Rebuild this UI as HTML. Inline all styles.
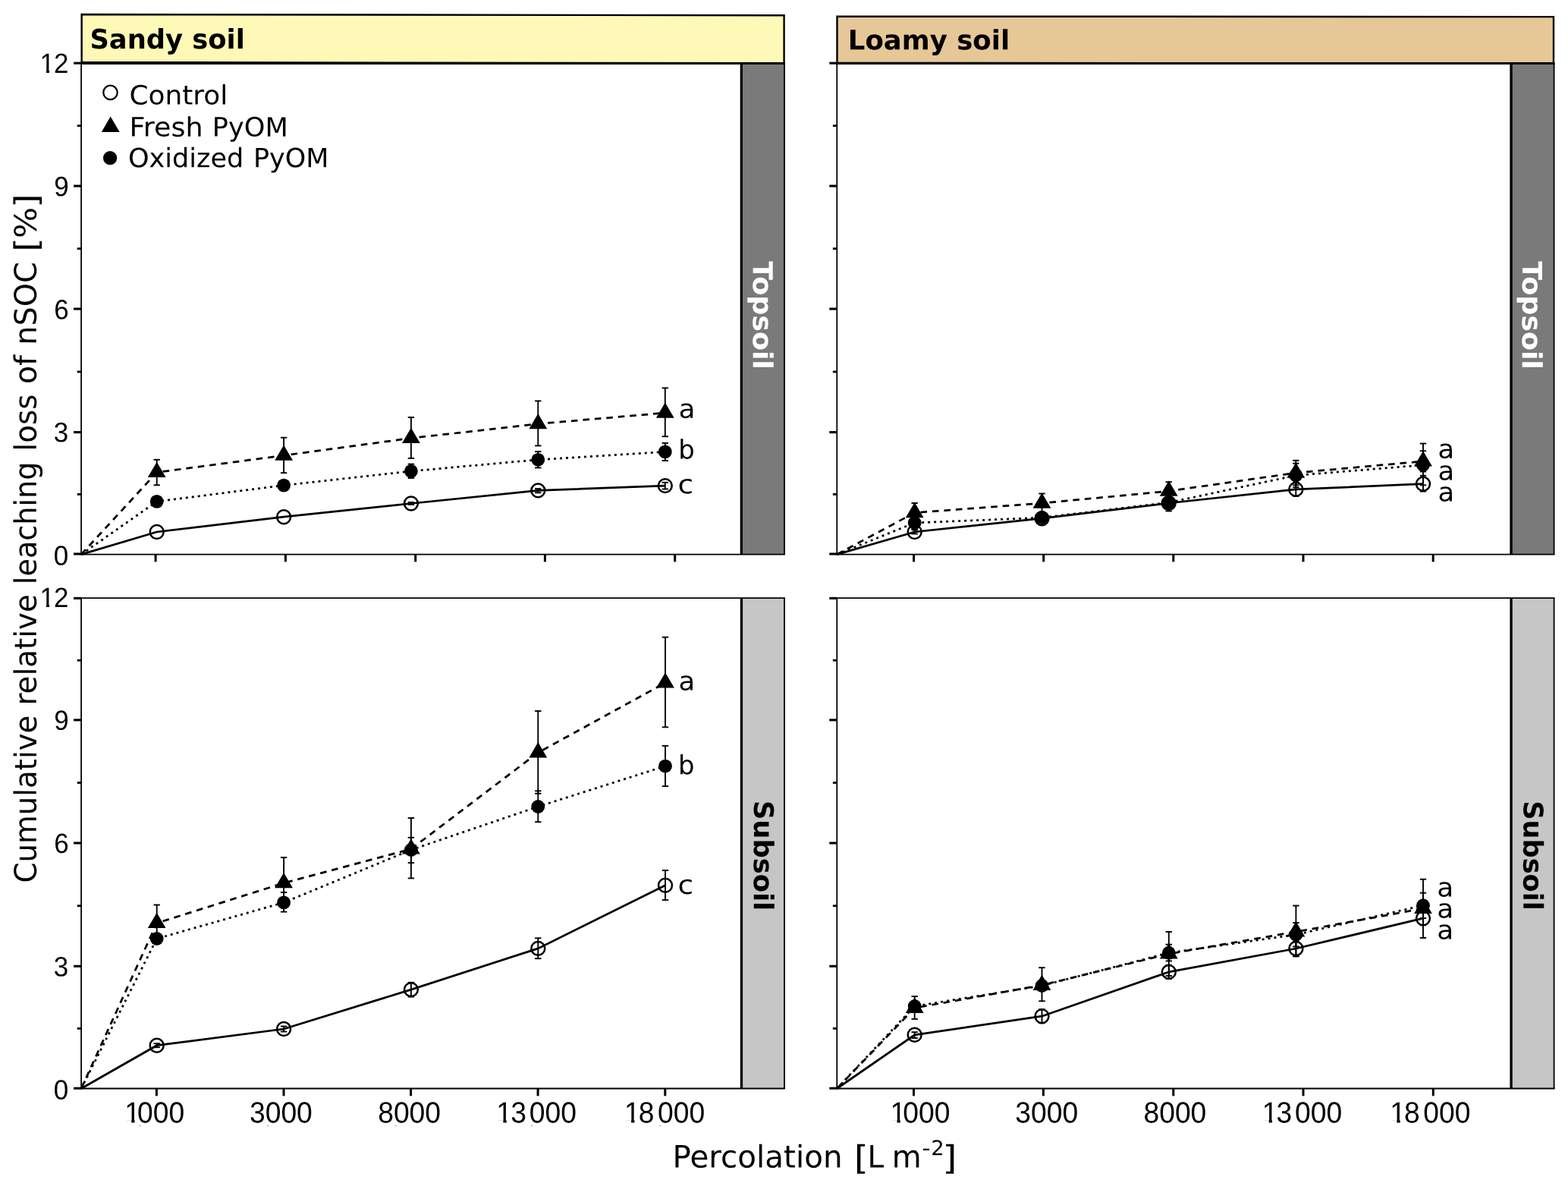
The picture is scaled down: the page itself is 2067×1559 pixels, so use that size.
<!DOCTYPE html>
<html lang="en"><head><meta charset="utf-8"><title>Cumulative relative leaching loss of nSOC</title>
<style>html,body{margin:0;padding:0;background:#fff;}svg{display:block;}text{white-space:pre;}</style></head><body>
<svg width="2067" height="1559" viewBox="0 0 2067 1559">
<rect x="0" y="0" width="2067" height="1559" fill="#ffffff"/>
<defs>
<clipPath id="one39" clipPathUnits="userSpaceOnUse"><polygon points="-3,-39 14.04,-39 14.04,1 9.48,1 9.48,-3.2 -3,-3.2"/></clipPath>
<clipPath id="one36" clipPathUnits="userSpaceOnUse"><polygon points="-3,-36.6 13.18,-36.6 13.18,1 8.89,1 8.89,-3 -3,-3"/></clipPath>
</defs>
<polygon points="107.65,19.05 1033.6,20.2 1033.6,83.3 107.65,82.1" fill="#FFF9B7" stroke="#000" stroke-width="2.4" stroke-linejoin="miter"/>
<text transform="translate(118.42 63.9) rotate(0.03) scale(0.9914 1.0000)" font-family='"DejaVu Sans", "Liberation Sans", sans-serif' font-weight="bold" font-size="35.6" fill="#000">Sandy soil</text>
<polygon points="1103.5,21.6 2048,22.1 2048,83.4 1103.5,82.9" fill="#E6C798" stroke="#000" stroke-width="2.4" stroke-linejoin="miter"/>
<text transform="translate(1117.86 65.2) rotate(0.03) scale(0.9970 1.0000)" font-family='"DejaVu Sans", "Liberation Sans", sans-serif' font-weight="bold" font-size="35.6" fill="#000">Loamy soil</text>
<g id="panel-TL">
<rect x="976.3" y="83.4" width="57.7" height="647.2" fill="#7A7A7A"/>
<line x1="977.35" y1="83.4" x2="977.35" y2="730.6" stroke="#000" stroke-width="3.3"/>
<line x1="1034" y1="83.4" x2="1034" y2="730.6" stroke="#000" stroke-width="1.8"/>
<text transform="translate(992.8 344.37) rotate(90.03) scale(1.0207 1.0000)" font-family='"DejaVu Sans", "Liberation Sans", sans-serif' font-weight="bold" font-size="35.6" fill="#fff">Topsoil</text>
<line x1="106.2" y1="83.4" x2="1034.9" y2="83.4" stroke="#000" stroke-width="3.0"/>
<line x1="106.2" y1="730.6" x2="1034.9" y2="730.6" stroke="#000" stroke-width="1.9"/>
<line x1="107.1" y1="83.4" x2="107.1" y2="730.6" stroke="#000" stroke-width="1.8"/>
<line x1="97.1" y1="730" x2="107.1" y2="730" stroke="#000" stroke-width="3.1"/>
<line x1="101.7" y1="651.4" x2="107.1" y2="651.4" stroke="#000" stroke-width="2.8"/>
<line x1="97.1" y1="569.6" x2="107.1" y2="569.6" stroke="#000" stroke-width="3.1"/>
<line x1="101.7" y1="489.93" x2="107.1" y2="489.93" stroke="#000" stroke-width="2.8"/>
<line x1="97.1" y1="407.05" x2="107.1" y2="407.05" stroke="#000" stroke-width="3.1"/>
<line x1="101.7" y1="327.68" x2="107.1" y2="327.68" stroke="#000" stroke-width="2.8"/>
<line x1="97.1" y1="245.1" x2="107.1" y2="245.1" stroke="#000" stroke-width="3.1"/>
<line x1="101.7" y1="165.75" x2="107.1" y2="165.75" stroke="#000" stroke-width="2.8"/>
<line x1="97.1" y1="83.2" x2="107.1" y2="83.2" stroke="#000" stroke-width="3.1"/>
<line x1="205.1" y1="730.6" x2="205.1" y2="740.4" stroke="#000" stroke-width="3"/>
<line x1="376.4" y1="730.6" x2="376.4" y2="740.4" stroke="#000" stroke-width="3"/>
<line x1="547.7" y1="730.6" x2="547.7" y2="740.4" stroke="#000" stroke-width="3"/>
<line x1="718.4" y1="730.6" x2="718.4" y2="740.4" stroke="#000" stroke-width="3"/>
<line x1="889.7" y1="730.6" x2="889.7" y2="740.4" stroke="#000" stroke-width="3"/>
<polyline points="107.1,730.6 206.7,701 374.1,681.2 541.9,663.5 709.3,646.4 876.8,640.1" fill="none" stroke="#000" stroke-width="2.75"/>
<polyline points="107.1,730.6 206.7,622.5 374.1,600.2 541.9,577.4 709.3,558.6 876.8,544.1" fill="none" stroke="#000" stroke-width="2.75" stroke-dasharray="8.6 6.9"/>
<polyline points="107.1,730.6 206.7,660.9 374.1,639.6 541.9,620.9 709.3,605.8 876.8,595.4" fill="none" stroke="#000" stroke-width="2.75" stroke-dasharray="3 5"/>
<g stroke="#000" stroke-width="1.9"><line x1="541.9" y1="662" x2="541.9" y2="665"/><line x1="537.7" y1="662" x2="546.1" y2="662"/><line x1="537.7" y1="665" x2="546.1" y2="665"/></g>
<g stroke="#000" stroke-width="1.9"><line x1="709.3" y1="644.1" x2="709.3" y2="649.3"/><line x1="705.1" y1="644.1" x2="713.5" y2="644.1"/><line x1="705.1" y1="649.3" x2="713.5" y2="649.3"/></g>
<g stroke="#000" stroke-width="1.9"><line x1="876.8" y1="635.8" x2="876.8" y2="644.5"/><line x1="872.6" y1="635.8" x2="881" y2="635.8"/><line x1="872.6" y1="644.5" x2="881" y2="644.5"/></g>
<g stroke="#000" stroke-width="1.9"><line x1="206.7" y1="605.8" x2="206.7" y2="639.3"/><line x1="202.5" y1="605.8" x2="210.9" y2="605.8"/><line x1="202.5" y1="639.3" x2="210.9" y2="639.3"/></g>
<g stroke="#000" stroke-width="1.9"><line x1="374.1" y1="576.7" x2="374.1" y2="623.2"/><line x1="369.9" y1="576.7" x2="378.3" y2="576.7"/><line x1="369.9" y1="623.2" x2="378.3" y2="623.2"/></g>
<g stroke="#000" stroke-width="1.9"><line x1="541.9" y1="550" x2="541.9" y2="603.9"/><line x1="537.7" y1="550" x2="546.1" y2="550"/><line x1="537.7" y1="603.9" x2="546.1" y2="603.9"/></g>
<g stroke="#000" stroke-width="1.9"><line x1="709.3" y1="528.4" x2="709.3" y2="587.4"/><line x1="705.1" y1="528.4" x2="713.5" y2="528.4"/><line x1="705.1" y1="587.4" x2="713.5" y2="587.4"/></g>
<g stroke="#000" stroke-width="1.9"><line x1="876.8" y1="511.3" x2="876.8" y2="575.2"/><line x1="872.6" y1="511.3" x2="881" y2="511.3"/><line x1="872.6" y1="575.2" x2="881" y2="575.2"/></g>
<g stroke="#000" stroke-width="1.9"><line x1="541.9" y1="611.6" x2="541.9" y2="630"/><line x1="537.7" y1="611.6" x2="546.1" y2="611.6"/><line x1="537.7" y1="630" x2="546.1" y2="630"/></g>
<g stroke="#000" stroke-width="1.9"><line x1="709.3" y1="595.1" x2="709.3" y2="616.4"/><line x1="705.1" y1="595.1" x2="713.5" y2="595.1"/><line x1="705.1" y1="616.4" x2="713.5" y2="616.4"/></g>
<g stroke="#000" stroke-width="1.9"><line x1="876.8" y1="583.9" x2="876.8" y2="607.1"/><line x1="872.6" y1="583.9" x2="881" y2="583.9"/><line x1="872.6" y1="607.1" x2="881" y2="607.1"/></g>
<circle cx="206.7" cy="701" r="8.95" fill="none" stroke="#000" stroke-width="2.5"/>
<circle cx="374.1" cy="681.2" r="8.95" fill="none" stroke="#000" stroke-width="2.5"/>
<circle cx="541.9" cy="663.5" r="8.95" fill="none" stroke="#000" stroke-width="2.5"/>
<circle cx="709.3" cy="646.4" r="8.95" fill="none" stroke="#000" stroke-width="2.5"/>
<circle cx="876.8" cy="640.1" r="8.95" fill="none" stroke="#000" stroke-width="2.5"/>
<circle cx="206.7" cy="660.9" r="8.9" fill="#000"/>
<circle cx="374.1" cy="639.6" r="8.9" fill="#000"/>
<circle cx="541.9" cy="620.9" r="8.9" fill="#000"/>
<circle cx="709.3" cy="605.8" r="8.9" fill="#000"/>
<circle cx="876.8" cy="595.4" r="8.9" fill="#000"/>
<polygon points="206.7,608.8 218.6,629.1 194.8,629.1" fill="#000"/>
<polygon points="374.1,586.5 386,606.8 362.2,606.8" fill="#000"/>
<polygon points="541.9,563.7 553.8,584 530,584" fill="#000"/>
<polygon points="709.3,544.9 721.2,565.2 697.4,565.2" fill="#000"/>
<polygon points="876.8,530.4 888.7,550.7 864.9,550.7" fill="#000"/>
<text transform="translate(894.82 550.7) rotate(0.03) scale(1.0268 1.0000)" font-family='"DejaVu Sans", "Liberation Sans", sans-serif' font-size="34.5" fill="#000">a</text>
<text transform="translate(894.33 604.5) rotate(0.03) scale(0.9837 1.0000)" font-family='"DejaVu Sans", "Liberation Sans", sans-serif' font-size="34.5" fill="#000">b</text>
<text transform="translate(893.56 650.3) rotate(0.03) scale(1.0867 1.0000)" font-family='"DejaVu Sans", "Liberation Sans", sans-serif' font-size="34.5" fill="#000">c</text>
</g>
<g id="panel-TR">
<rect x="1990.5" y="83.4" width="58.1" height="647.2" fill="#7A7A7A"/>
<line x1="1992.1" y1="83.4" x2="1992.1" y2="730.6" stroke="#000" stroke-width="3.3"/>
<line x1="2048.6" y1="83.4" x2="2048.6" y2="730.6" stroke="#000" stroke-width="1.8"/>
<text transform="translate(2006.9 344.37) rotate(90.03) scale(1.0207 1.0000)" font-family='"DejaVu Sans", "Liberation Sans", sans-serif' font-weight="bold" font-size="35.6" fill="#fff">Topsoil</text>
<line x1="1102.4" y1="83.4" x2="2049.5" y2="83.4" stroke="#000" stroke-width="3.0"/>
<line x1="1102.4" y1="730.6" x2="2049.5" y2="730.6" stroke="#000" stroke-width="1.9"/>
<line x1="1103.3" y1="83.4" x2="1103.3" y2="730.6" stroke="#000" stroke-width="1.8"/>
<line x1="1093.3" y1="730" x2="1103.3" y2="730" stroke="#000" stroke-width="3.1"/>
<line x1="1097.9" y1="651.4" x2="1103.3" y2="651.4" stroke="#000" stroke-width="2.8"/>
<line x1="1093.3" y1="569.6" x2="1103.3" y2="569.6" stroke="#000" stroke-width="3.1"/>
<line x1="1097.9" y1="489.93" x2="1103.3" y2="489.93" stroke="#000" stroke-width="2.8"/>
<line x1="1093.3" y1="407.05" x2="1103.3" y2="407.05" stroke="#000" stroke-width="3.1"/>
<line x1="1097.9" y1="327.68" x2="1103.3" y2="327.68" stroke="#000" stroke-width="2.8"/>
<line x1="1093.3" y1="245.1" x2="1103.3" y2="245.1" stroke="#000" stroke-width="3.1"/>
<line x1="1097.9" y1="165.75" x2="1103.3" y2="165.75" stroke="#000" stroke-width="2.8"/>
<line x1="1093.3" y1="83.2" x2="1103.3" y2="83.2" stroke="#000" stroke-width="3.1"/>
<line x1="1204.6" y1="730.6" x2="1204.6" y2="740.4" stroke="#000" stroke-width="3"/>
<line x1="1375.7" y1="730.6" x2="1375.7" y2="740.4" stroke="#000" stroke-width="3"/>
<line x1="1546.8" y1="730.6" x2="1546.8" y2="740.4" stroke="#000" stroke-width="3"/>
<line x1="1718" y1="730.6" x2="1718" y2="740.4" stroke="#000" stroke-width="3"/>
<line x1="1889.2" y1="730.6" x2="1889.2" y2="740.4" stroke="#000" stroke-width="3"/>
<polyline points="1103.3,730.6 1205.7,701 1373.5,683.2 1540.7,663 1708.3,644.9 1876,637.7" fill="none" stroke="#000" stroke-width="2.75"/>
<polyline points="1103.3,730.6 1205.7,675.7 1373.5,663.1 1540.7,647.2 1708.3,623.1 1876,607.9" fill="none" stroke="#000" stroke-width="2.75" stroke-dasharray="8.6 6.9"/>
<polyline points="1103.3,730.6 1205.7,689 1373.5,682.2 1540.7,662.3 1708.3,626.5 1876,612.8" fill="none" stroke="#000" stroke-width="2.75" stroke-dasharray="3 5"/>
<g stroke="#000" stroke-width="1.9"><line x1="1205.7" y1="698.5" x2="1205.7" y2="703.5"/><line x1="1201.5" y1="698.5" x2="1209.9" y2="698.5"/><line x1="1201.5" y1="703.5" x2="1209.9" y2="703.5"/></g>
<g stroke="#000" stroke-width="1.9"><line x1="1708.3" y1="635.9" x2="1708.3" y2="653.9"/><line x1="1704.1" y1="635.9" x2="1712.5" y2="635.9"/><line x1="1704.1" y1="653.9" x2="1712.5" y2="653.9"/></g>
<g stroke="#000" stroke-width="1.9"><line x1="1876" y1="626.8" x2="1876" y2="647.6"/><line x1="1871.8" y1="626.8" x2="1880.2" y2="626.8"/><line x1="1871.8" y1="647.6" x2="1880.2" y2="647.6"/></g>
<g stroke="#000" stroke-width="1.9"><line x1="1205.7" y1="663" x2="1205.7" y2="688.5"/><line x1="1201.5" y1="663" x2="1209.9" y2="663"/><line x1="1201.5" y1="688.5" x2="1209.9" y2="688.5"/></g>
<g stroke="#000" stroke-width="1.9"><line x1="1373.5" y1="650.5" x2="1373.5" y2="676"/><line x1="1369.3" y1="650.5" x2="1377.7" y2="650.5"/><line x1="1369.3" y1="676" x2="1377.7" y2="676"/></g>
<g stroke="#000" stroke-width="1.9"><line x1="1540.7" y1="635.2" x2="1540.7" y2="659.2"/><line x1="1536.5" y1="635.2" x2="1544.9" y2="635.2"/><line x1="1536.5" y1="659.2" x2="1544.9" y2="659.2"/></g>
<g stroke="#000" stroke-width="1.9"><line x1="1708.3" y1="606.8" x2="1708.3" y2="639.4"/><line x1="1704.1" y1="606.8" x2="1712.5" y2="606.8"/><line x1="1704.1" y1="639.4" x2="1712.5" y2="639.4"/></g>
<g stroke="#000" stroke-width="1.9"><line x1="1876" y1="594.3" x2="1876" y2="621.5"/><line x1="1871.8" y1="594.3" x2="1880.2" y2="594.3"/><line x1="1871.8" y1="621.5" x2="1880.2" y2="621.5"/></g>
<g stroke="#000" stroke-width="1.9"><line x1="1205.7" y1="681" x2="1205.7" y2="697"/><line x1="1201.5" y1="681" x2="1209.9" y2="681"/><line x1="1201.5" y1="697" x2="1209.9" y2="697"/></g>
<g stroke="#000" stroke-width="1.9"><line x1="1540.7" y1="651.1" x2="1540.7" y2="673.5"/><line x1="1536.5" y1="651.1" x2="1544.9" y2="651.1"/><line x1="1536.5" y1="673.5" x2="1544.9" y2="673.5"/></g>
<g stroke="#000" stroke-width="1.9"><line x1="1708.3" y1="610.7" x2="1708.3" y2="642.3"/><line x1="1704.1" y1="610.7" x2="1712.5" y2="610.7"/><line x1="1704.1" y1="642.3" x2="1712.5" y2="642.3"/></g>
<g stroke="#000" stroke-width="1.9"><line x1="1876" y1="584.5" x2="1876" y2="639.3"/><line x1="1871.8" y1="584.5" x2="1880.2" y2="584.5"/><line x1="1871.8" y1="639.3" x2="1880.2" y2="639.3"/></g>
<circle cx="1205.7" cy="701" r="8.95" fill="none" stroke="#000" stroke-width="2.5"/>
<circle cx="1373.5" cy="683.2" r="8.95" fill="none" stroke="#000" stroke-width="2.5"/>
<circle cx="1540.7" cy="663" r="8.95" fill="none" stroke="#000" stroke-width="2.5"/>
<circle cx="1708.3" cy="644.9" r="8.95" fill="none" stroke="#000" stroke-width="2.5"/>
<circle cx="1876" cy="637.7" r="8.95" fill="none" stroke="#000" stroke-width="2.5"/>
<circle cx="1205.7" cy="689" r="8.9" fill="#000"/>
<circle cx="1373.5" cy="682.2" r="8.9" fill="#000"/>
<circle cx="1540.7" cy="662.3" r="8.9" fill="#000"/>
<circle cx="1708.3" cy="626.5" r="8.9" fill="#000"/>
<circle cx="1876" cy="612.8" r="8.9" fill="#000"/>
<polygon points="1205.7,662 1217.6,682.3 1193.8,682.3" fill="#000"/>
<polygon points="1373.5,649.4 1385.4,669.7 1361.6,669.7" fill="#000"/>
<polygon points="1540.7,633.5 1552.6,653.8 1528.8,653.8" fill="#000"/>
<polygon points="1708.3,609.4 1720.2,629.7 1696.4,629.7" fill="#000"/>
<polygon points="1876,594.2 1887.9,614.5 1864.1,614.5" fill="#000"/>
<text transform="translate(1895.62 603.8) rotate(0.03) scale(1.0268 1.0000)" font-family='"DejaVu Sans", "Liberation Sans", sans-serif' font-size="34.5" fill="#000">a</text>
<text transform="translate(1895.62 632.5) rotate(0.03) scale(1.0268 1.0000)" font-family='"DejaVu Sans", "Liberation Sans", sans-serif' font-size="34.5" fill="#000">a</text>
<text transform="translate(1895.62 660.6) rotate(0.03) scale(1.0268 1.0000)" font-family='"DejaVu Sans", "Liberation Sans", sans-serif' font-size="34.5" fill="#000">a</text>
</g>
<g id="panel-BL">
<rect x="976.3" y="788.1" width="57.7" height="646.4" fill="#C6C6C6"/>
<line x1="977.45" y1="788.1" x2="977.45" y2="1434.5" stroke="#000" stroke-width="3.3"/>
<line x1="1034" y1="788.1" x2="1034" y2="1434.5" stroke="#000" stroke-width="1.8"/>
<text transform="translate(993.9 1054.92) rotate(90.03) scale(0.9908 1.0000)" font-family='"DejaVu Sans", "Liberation Sans", sans-serif' font-weight="bold" font-size="35.6" fill="#000">Subsoil</text>
<line x1="106.2" y1="788.1" x2="1034.9" y2="788.1" stroke="#000" stroke-width="1.8"/>
<line x1="106.2" y1="1434.5" x2="1034.9" y2="1434.5" stroke="#000" stroke-width="1.9"/>
<line x1="107.1" y1="788.1" x2="107.1" y2="1434.5" stroke="#000" stroke-width="1.8"/>
<line x1="97.1" y1="1434.2" x2="107.1" y2="1434.2" stroke="#000" stroke-width="3.1"/>
<line x1="101.7" y1="1355.35" x2="107.1" y2="1355.35" stroke="#000" stroke-width="2.8"/>
<line x1="97.1" y1="1273.3" x2="107.1" y2="1273.3" stroke="#000" stroke-width="3.1"/>
<line x1="101.7" y1="1193.75" x2="107.1" y2="1193.75" stroke="#000" stroke-width="2.8"/>
<line x1="97.1" y1="1111" x2="107.1" y2="1111" stroke="#000" stroke-width="3.1"/>
<line x1="101.7" y1="1031.52" x2="107.1" y2="1031.52" stroke="#000" stroke-width="2.8"/>
<line x1="97.1" y1="948.85" x2="107.1" y2="948.85" stroke="#000" stroke-width="3.1"/>
<line x1="101.7" y1="870.23" x2="107.1" y2="870.23" stroke="#000" stroke-width="2.8"/>
<line x1="97.1" y1="788.4" x2="107.1" y2="788.4" stroke="#000" stroke-width="3.1"/>
<line x1="206.4" y1="1434.5" x2="206.4" y2="1444.3" stroke="#000" stroke-width="3"/>
<line x1="374" y1="1434.5" x2="374" y2="1444.3" stroke="#000" stroke-width="3"/>
<line x1="541.6" y1="1434.5" x2="541.6" y2="1444.3" stroke="#000" stroke-width="3"/>
<line x1="709.1" y1="1434.5" x2="709.1" y2="1444.3" stroke="#000" stroke-width="3"/>
<line x1="876.8" y1="1434.5" x2="876.8" y2="1444.3" stroke="#000" stroke-width="3"/>
<polyline points="107.1,1434.5 206.7,1377.7 374.1,1356 541.9,1304.1 709.3,1249.9 877,1166.8" fill="none" stroke="#000" stroke-width="2.75"/>
<polyline points="107.1,1434.5 206.7,1216.5 374.1,1163.7 541.9,1118.9 709.3,991.8 877,899.9" fill="none" stroke="#000" stroke-width="2.75" stroke-dasharray="8.6 6.9"/>
<polyline points="107.1,1434.5 206.7,1237 374.1,1189.4 541.9,1120 709.3,1063 877,1009.6" fill="none" stroke="#000" stroke-width="2.75" stroke-dasharray="3 5"/>
<g stroke="#000" stroke-width="1.9"><line x1="206.7" y1="1375.2" x2="206.7" y2="1380.2"/><line x1="202.5" y1="1375.2" x2="210.9" y2="1375.2"/><line x1="202.5" y1="1380.2" x2="210.9" y2="1380.2"/></g>
<g stroke="#000" stroke-width="1.9"><line x1="374.1" y1="1352.5" x2="374.1" y2="1359.5"/><line x1="369.9" y1="1352.5" x2="378.3" y2="1352.5"/><line x1="369.9" y1="1359.5" x2="378.3" y2="1359.5"/></g>
<g stroke="#000" stroke-width="1.9"><line x1="541.9" y1="1294.8" x2="541.9" y2="1313.6"/><line x1="537.7" y1="1294.8" x2="546.1" y2="1294.8"/><line x1="537.7" y1="1313.6" x2="546.1" y2="1313.6"/></g>
<g stroke="#000" stroke-width="1.9"><line x1="709.3" y1="1236.3" x2="709.3" y2="1263.2"/><line x1="705.1" y1="1236.3" x2="713.5" y2="1236.3"/><line x1="705.1" y1="1263.2" x2="713.5" y2="1263.2"/></g>
<g stroke="#000" stroke-width="1.9"><line x1="877" y1="1147" x2="877" y2="1186.1"/><line x1="872.8" y1="1147" x2="881.2" y2="1147"/><line x1="872.8" y1="1186.1" x2="881.2" y2="1186.1"/></g>
<g stroke="#000" stroke-width="1.9"><line x1="206.7" y1="1192.5" x2="206.7" y2="1242"/><line x1="202.5" y1="1192.5" x2="210.9" y2="1192.5"/><line x1="202.5" y1="1242" x2="210.9" y2="1242"/></g>
<g stroke="#000" stroke-width="1.9"><line x1="374.1" y1="1130" x2="374.1" y2="1196"/><line x1="369.9" y1="1130" x2="378.3" y2="1130"/><line x1="369.9" y1="1196" x2="378.3" y2="1196"/></g>
<g stroke="#000" stroke-width="1.9"><line x1="541.9" y1="1078" x2="541.9" y2="1157.4"/><line x1="537.7" y1="1078" x2="546.1" y2="1078"/><line x1="537.7" y1="1157.4" x2="546.1" y2="1157.4"/></g>
<g stroke="#000" stroke-width="1.9"><line x1="709.3" y1="937" x2="709.3" y2="1045.8"/><line x1="705.1" y1="937" x2="713.5" y2="937"/><line x1="705.1" y1="1045.8" x2="713.5" y2="1045.8"/></g>
<g stroke="#000" stroke-width="1.9"><line x1="877" y1="839.7" x2="877" y2="958.3"/><line x1="872.8" y1="839.7" x2="881.2" y2="839.7"/><line x1="872.8" y1="958.3" x2="881.2" y2="958.3"/></g>
<g stroke="#000" stroke-width="1.9"><line x1="374.1" y1="1176" x2="374.1" y2="1201.6"/><line x1="369.9" y1="1176" x2="378.3" y2="1176"/><line x1="369.9" y1="1201.6" x2="378.3" y2="1201.6"/></g>
<g stroke="#000" stroke-width="1.9"><line x1="541.9" y1="1103.8" x2="541.9" y2="1137.1"/><line x1="537.7" y1="1103.8" x2="546.1" y2="1103.8"/><line x1="537.7" y1="1137.1" x2="546.1" y2="1137.1"/></g>
<g stroke="#000" stroke-width="1.9"><line x1="709.3" y1="1042.3" x2="709.3" y2="1083.2"/><line x1="705.1" y1="1042.3" x2="713.5" y2="1042.3"/><line x1="705.1" y1="1083.2" x2="713.5" y2="1083.2"/></g>
<g stroke="#000" stroke-width="1.9"><line x1="877" y1="982.9" x2="877" y2="1036.1"/><line x1="872.8" y1="982.9" x2="881.2" y2="982.9"/><line x1="872.8" y1="1036.1" x2="881.2" y2="1036.1"/></g>
<circle cx="206.7" cy="1377.7" r="8.95" fill="none" stroke="#000" stroke-width="2.5"/>
<circle cx="374.1" cy="1356" r="8.95" fill="none" stroke="#000" stroke-width="2.5"/>
<circle cx="541.9" cy="1304.1" r="8.95" fill="none" stroke="#000" stroke-width="2.5"/>
<circle cx="709.3" cy="1249.9" r="8.95" fill="none" stroke="#000" stroke-width="2.5"/>
<circle cx="877" cy="1166.8" r="8.95" fill="none" stroke="#000" stroke-width="2.5"/>
<circle cx="206.7" cy="1237" r="8.9" fill="#000"/>
<circle cx="374.1" cy="1189.4" r="8.9" fill="#000"/>
<circle cx="541.9" cy="1120" r="8.9" fill="#000"/>
<circle cx="709.3" cy="1063" r="8.9" fill="#000"/>
<circle cx="877" cy="1009.6" r="8.9" fill="#000"/>
<polygon points="206.7,1202.8 218.6,1223.1 194.8,1223.1" fill="#000"/>
<polygon points="374.1,1150 386,1170.3 362.2,1170.3" fill="#000"/>
<polygon points="541.9,1105.2 553.8,1125.5 530,1125.5" fill="#000"/>
<polygon points="709.3,978.1 721.2,998.4 697.4,998.4" fill="#000"/>
<polygon points="877,886.2 888.9,906.5 865.1,906.5" fill="#000"/>
<text transform="translate(894.52 909.4) rotate(0.03) scale(1.0268 1.0000)" font-family='"DejaVu Sans", "Liberation Sans", sans-serif' font-size="34.5" fill="#000">a</text>
<text transform="translate(894.03 1020.2) rotate(0.03) scale(0.9837 1.0000)" font-family='"DejaVu Sans", "Liberation Sans", sans-serif' font-size="34.5" fill="#000">b</text>
<text transform="translate(893.56 1177.9) rotate(0.03) scale(1.0867 1.0000)" font-family='"DejaVu Sans", "Liberation Sans", sans-serif' font-size="34.5" fill="#000">c</text>
</g>
<g id="panel-BR">
<rect x="1990.5" y="788.1" width="58.1" height="646.4" fill="#C6C6C6"/>
<line x1="1992.1" y1="788.1" x2="1992.1" y2="1434.5" stroke="#000" stroke-width="3.3"/>
<line x1="2048.6" y1="788.1" x2="2048.6" y2="1434.5" stroke="#000" stroke-width="1.8"/>
<text transform="translate(2008.4 1055.13) rotate(90.03) scale(0.9879 1.0000)" font-family='"DejaVu Sans", "Liberation Sans", sans-serif' font-weight="bold" font-size="35.6" fill="#000">Subsoil</text>
<line x1="1102.4" y1="788.1" x2="2049.5" y2="788.1" stroke="#000" stroke-width="1.8"/>
<line x1="1102.4" y1="1434.5" x2="2049.5" y2="1434.5" stroke="#000" stroke-width="1.9"/>
<line x1="1103.3" y1="788.1" x2="1103.3" y2="1434.5" stroke="#000" stroke-width="1.8"/>
<line x1="1093.3" y1="1434.2" x2="1103.3" y2="1434.2" stroke="#000" stroke-width="3.1"/>
<line x1="1097.9" y1="1355.35" x2="1103.3" y2="1355.35" stroke="#000" stroke-width="2.8"/>
<line x1="1093.3" y1="1273.3" x2="1103.3" y2="1273.3" stroke="#000" stroke-width="3.1"/>
<line x1="1097.9" y1="1193.75" x2="1103.3" y2="1193.75" stroke="#000" stroke-width="2.8"/>
<line x1="1093.3" y1="1111" x2="1103.3" y2="1111" stroke="#000" stroke-width="3.1"/>
<line x1="1097.9" y1="1031.52" x2="1103.3" y2="1031.52" stroke="#000" stroke-width="2.8"/>
<line x1="1093.3" y1="948.85" x2="1103.3" y2="948.85" stroke="#000" stroke-width="3.1"/>
<line x1="1097.9" y1="870.23" x2="1103.3" y2="870.23" stroke="#000" stroke-width="2.8"/>
<line x1="1093.3" y1="788.4" x2="1103.3" y2="788.4" stroke="#000" stroke-width="3.1"/>
<line x1="1204.5" y1="1434.5" x2="1204.5" y2="1444.3" stroke="#000" stroke-width="3"/>
<line x1="1375.4" y1="1434.5" x2="1375.4" y2="1444.3" stroke="#000" stroke-width="3"/>
<line x1="1546.8" y1="1434.5" x2="1546.8" y2="1444.3" stroke="#000" stroke-width="3"/>
<line x1="1718" y1="1434.5" x2="1718" y2="1444.3" stroke="#000" stroke-width="3"/>
<line x1="1889.3" y1="1434.5" x2="1889.3" y2="1444.3" stroke="#000" stroke-width="3"/>
<polyline points="1103.3,1434.5 1205.7,1363.8 1373.5,1339.2 1540.8,1280.9 1708.4,1250 1876,1210.2" fill="none" stroke="#000" stroke-width="2.75"/>
<polyline points="1103.3,1434.5 1205.7,1328.3 1373.5,1298.3 1540.8,1257 1708.4,1227.9 1876,1197.3" fill="none" stroke="#000" stroke-width="2.75" stroke-dasharray="8.6 6.9"/>
<polyline points="1103.3,1434.5 1205.7,1326 1373.5,1299 1540.8,1255.7 1708.4,1231.7 1876,1193.2" fill="none" stroke="#000" stroke-width="2.75" stroke-dasharray="3 5"/>
<g stroke="#000" stroke-width="1.9"><line x1="1205.7" y1="1360.2" x2="1205.7" y2="1368"/><line x1="1201.5" y1="1360.2" x2="1209.9" y2="1360.2"/><line x1="1201.5" y1="1368" x2="1209.9" y2="1368"/></g>
<g stroke="#000" stroke-width="1.9"><line x1="1373.5" y1="1330.2" x2="1373.5" y2="1348.2"/><line x1="1369.3" y1="1330.2" x2="1377.7" y2="1330.2"/><line x1="1369.3" y1="1348.2" x2="1377.7" y2="1348.2"/></g>
<g stroke="#000" stroke-width="1.9"><line x1="1540.8" y1="1271.9" x2="1540.8" y2="1289.9"/><line x1="1536.6" y1="1271.9" x2="1545" y2="1271.9"/><line x1="1536.6" y1="1289.9" x2="1545" y2="1289.9"/></g>
<g stroke="#000" stroke-width="1.9"><line x1="1708.4" y1="1241" x2="1708.4" y2="1259"/><line x1="1704.2" y1="1241" x2="1712.6" y2="1241"/><line x1="1704.2" y1="1259" x2="1712.6" y2="1259"/></g>
<g stroke="#000" stroke-width="1.9"><line x1="1876" y1="1201.2" x2="1876" y2="1219.2"/><line x1="1871.8" y1="1201.2" x2="1880.2" y2="1201.2"/><line x1="1871.8" y1="1219.2" x2="1880.2" y2="1219.2"/></g>
<g stroke="#000" stroke-width="1.9"><line x1="1373.5" y1="1275.2" x2="1373.5" y2="1319.3"/><line x1="1369.3" y1="1275.2" x2="1377.7" y2="1275.2"/><line x1="1369.3" y1="1319.3" x2="1377.7" y2="1319.3"/></g>
<g stroke="#000" stroke-width="1.9"><line x1="1540.8" y1="1228" x2="1540.8" y2="1286"/><line x1="1536.6" y1="1228" x2="1545" y2="1228"/><line x1="1536.6" y1="1286" x2="1545" y2="1286"/></g>
<g stroke="#000" stroke-width="1.9"><line x1="1708.4" y1="1193.5" x2="1708.4" y2="1260.5"/><line x1="1704.2" y1="1193.5" x2="1712.6" y2="1193.5"/><line x1="1704.2" y1="1260.5" x2="1712.6" y2="1260.5"/></g>
<g stroke="#000" stroke-width="1.9"><line x1="1876" y1="1158.7" x2="1876" y2="1236"/><line x1="1871.8" y1="1158.7" x2="1880.2" y2="1158.7"/><line x1="1871.8" y1="1236" x2="1880.2" y2="1236"/></g>
<g stroke="#000" stroke-width="1.9"><line x1="1205.7" y1="1313.1" x2="1205.7" y2="1342.9"/><line x1="1201.5" y1="1313.1" x2="1209.9" y2="1313.1"/><line x1="1201.5" y1="1342.9" x2="1209.9" y2="1342.9"/></g>
<g stroke="#000" stroke-width="1.9"><line x1="1540.8" y1="1244.7" x2="1540.8" y2="1266.4"/><line x1="1536.6" y1="1244.7" x2="1545" y2="1244.7"/><line x1="1536.6" y1="1266.4" x2="1545" y2="1266.4"/></g>
<g stroke="#000" stroke-width="1.9"><line x1="1708.4" y1="1216" x2="1708.4" y2="1247.4"/><line x1="1704.2" y1="1216" x2="1712.6" y2="1216"/><line x1="1704.2" y1="1247.4" x2="1712.6" y2="1247.4"/></g>
<g stroke="#000" stroke-width="1.9"><line x1="1876" y1="1176.7" x2="1876" y2="1210"/><line x1="1871.8" y1="1176.7" x2="1880.2" y2="1176.7"/><line x1="1871.8" y1="1210" x2="1880.2" y2="1210"/></g>
<circle cx="1205.7" cy="1363.8" r="8.95" fill="none" stroke="#000" stroke-width="2.5"/>
<circle cx="1373.5" cy="1339.2" r="8.95" fill="none" stroke="#000" stroke-width="2.5"/>
<circle cx="1540.8" cy="1280.9" r="8.95" fill="none" stroke="#000" stroke-width="2.5"/>
<circle cx="1708.4" cy="1250" r="8.95" fill="none" stroke="#000" stroke-width="2.5"/>
<circle cx="1876" cy="1210.2" r="8.95" fill="none" stroke="#000" stroke-width="2.5"/>
<circle cx="1205.7" cy="1326" r="8.9" fill="#000"/>
<circle cx="1373.5" cy="1299" r="8.9" fill="#000"/>
<circle cx="1540.8" cy="1255.7" r="8.9" fill="#000"/>
<circle cx="1708.4" cy="1231.7" r="8.9" fill="#000"/>
<circle cx="1876" cy="1193.2" r="8.9" fill="#000"/>
<polygon points="1205.7,1314.6 1217.6,1334.9 1193.8,1334.9" fill="#000"/>
<polygon points="1373.5,1284.6 1385.4,1304.9 1361.6,1304.9" fill="#000"/>
<polygon points="1540.8,1243.3 1552.7,1263.6 1528.9,1263.6" fill="#000"/>
<polygon points="1708.4,1214.2 1720.3,1234.5 1696.5,1234.5" fill="#000"/>
<polygon points="1876,1183.6 1887.9,1203.9 1864.1,1203.9" fill="#000"/>
<text transform="translate(1894.19 1181.6) rotate(0.03) scale(1.0394 1.0000)" font-family='"DejaVu Sans", "Liberation Sans", sans-serif' font-size="34.5" fill="#000">a</text>
<text transform="translate(1894.19 1209.6) rotate(0.03) scale(1.0394 1.0000)" font-family='"DejaVu Sans", "Liberation Sans", sans-serif' font-size="34.5" fill="#000">a</text>
<text transform="translate(1894.19 1237.6) rotate(0.03) scale(1.0394 1.0000)" font-family='"DejaVu Sans", "Liberation Sans", sans-serif' font-size="34.5" fill="#000">a</text>
</g>
<g id="tick-labels">
<g><text transform="translate(52.52 95.9) rotate(0.03) scale(0.9550 1)" clip-path="url(#one36)" font-family='"Liberation Sans", "DejaVu Sans", sans-serif' font-size="36.6" fill="#000">1</text><text transform="translate(71.03 95.9) rotate(0.03) scale(0.9550 1.0000)" font-family='"Liberation Sans", "DejaVu Sans", sans-serif' font-size="36.6" fill="#000">2</text></g>
<text transform="translate(71.31 258.2) rotate(0.03) scale(0.9550 1.0000)" font-family='"Liberation Sans", "DejaVu Sans", sans-serif' font-size="36.6" fill="#000">9</text>
<text transform="translate(71.19 420.4) rotate(0.03) scale(0.9550 1.0000)" font-family='"Liberation Sans", "DejaVu Sans", sans-serif' font-size="36.6" fill="#000">6</text>
<text transform="translate(70.84 582.3) rotate(0.03) scale(0.9550 1.0000)" font-family='"Liberation Sans", "DejaVu Sans", sans-serif' font-size="36.6" fill="#000">3</text>
<text transform="translate(70.72 744.65) rotate(0.03) scale(0.9550 1.0000)" font-family='"Liberation Sans", "DejaVu Sans", sans-serif' font-size="36.6" fill="#000">0</text>
<g><text transform="translate(52.52 799.95) rotate(0.03) scale(0.9550 1)" clip-path="url(#one36)" font-family='"Liberation Sans", "DejaVu Sans", sans-serif' font-size="36.6" fill="#000">1</text><text transform="translate(70.93 799.95) rotate(0.03) scale(0.9550 1.0000)" font-family='"Liberation Sans", "DejaVu Sans", sans-serif' font-size="36.6" fill="#000">2</text></g>
<text transform="translate(71.31 961.65) rotate(0.03) scale(0.9550 1.0000)" font-family='"Liberation Sans", "DejaVu Sans", sans-serif' font-size="36.6" fill="#000">9</text>
<text transform="translate(71.19 1124.1) rotate(0.03) scale(0.9550 1.0000)" font-family='"Liberation Sans", "DejaVu Sans", sans-serif' font-size="36.6" fill="#000">6</text>
<text transform="translate(70.84 1286.4) rotate(0.03) scale(0.9550 1.0000)" font-family='"Liberation Sans", "DejaVu Sans", sans-serif' font-size="36.6" fill="#000">3</text>
<text transform="translate(70.72 1448.7) rotate(0.03) scale(0.9550 1.0000)" font-family='"Liberation Sans", "DejaVu Sans", sans-serif' font-size="36.6" fill="#000">0</text>
<g><text transform="translate(164.14 1479.5) rotate(0.03) scale(0.9550 1)" clip-path="url(#one39)" font-family='"Liberation Sans", "DejaVu Sans", sans-serif' font-size="39.0" fill="#000">1</text><text transform="translate(181.06 1479.5) rotate(0.03) scale(0.9550 1.0000)" font-family='"Liberation Sans", "DejaVu Sans", sans-serif' font-size="39.0" fill="#000">000</text></g>
<g><text transform="translate(328.99 1479.5) rotate(0.03) scale(0.9550 1.0000)" font-family='"Liberation Sans", "DejaVu Sans", sans-serif' font-size="39.0" fill="#000">3000</text></g>
<g><text transform="translate(498.19 1479.5) rotate(0.03) scale(0.9550 1.0000)" font-family='"Liberation Sans", "DejaVu Sans", sans-serif' font-size="39.0" fill="#000">8000</text></g>
<g><text transform="translate(654.34 1479.5) rotate(0.03) scale(0.9550 1)" clip-path="url(#one39)" font-family='"Liberation Sans", "DejaVu Sans", sans-serif' font-size="39.0" fill="#000">1</text><text transform="translate(673.2 1479.5) rotate(0.03) scale(0.9550 1.0000)" font-family='"Liberation Sans", "DejaVu Sans", sans-serif' font-size="39.0" fill="#000">3</text><text transform="translate(697.76 1479.5) rotate(0.03) scale(0.9550 1.0000)" font-family='"Liberation Sans", "DejaVu Sans", sans-serif' font-size="39.0" fill="#000">000</text></g>
<g><text transform="translate(823.04 1479.5) rotate(0.03) scale(0.9550 1)" clip-path="url(#one39)" font-family='"Liberation Sans", "DejaVu Sans", sans-serif' font-size="39.0" fill="#000">1</text><text transform="translate(841.8 1479.5) rotate(0.03) scale(0.9550 1.0000)" font-family='"Liberation Sans", "DejaVu Sans", sans-serif' font-size="39.0" fill="#000">8</text><text transform="translate(867.06 1479.5) rotate(0.03) scale(0.9550 1.0000)" font-family='"Liberation Sans", "DejaVu Sans", sans-serif' font-size="39.0" fill="#000">000</text></g>
<g><text transform="translate(1173.44 1479.5) rotate(0.03) scale(0.9550 1)" clip-path="url(#one39)" font-family='"Liberation Sans", "DejaVu Sans", sans-serif' font-size="39.0" fill="#000">1</text><text transform="translate(1190.36 1479.5) rotate(0.03) scale(0.9550 1.0000)" font-family='"Liberation Sans", "DejaVu Sans", sans-serif' font-size="39.0" fill="#000">000</text></g>
<g><text transform="translate(1338.29 1479.5) rotate(0.03) scale(0.9550 1.0000)" font-family='"Liberation Sans", "DejaVu Sans", sans-serif' font-size="39.0" fill="#000">3000</text></g>
<g><text transform="translate(1507.49 1479.5) rotate(0.03) scale(0.9550 1.0000)" font-family='"Liberation Sans", "DejaVu Sans", sans-serif' font-size="39.0" fill="#000">8000</text></g>
<g><text transform="translate(1663.64 1479.5) rotate(0.03) scale(0.9550 1)" clip-path="url(#one39)" font-family='"Liberation Sans", "DejaVu Sans", sans-serif' font-size="39.0" fill="#000">1</text><text transform="translate(1682.5 1479.5) rotate(0.03) scale(0.9550 1.0000)" font-family='"Liberation Sans", "DejaVu Sans", sans-serif' font-size="39.0" fill="#000">3</text><text transform="translate(1707.06 1479.5) rotate(0.03) scale(0.9550 1.0000)" font-family='"Liberation Sans", "DejaVu Sans", sans-serif' font-size="39.0" fill="#000">000</text></g>
<g><text transform="translate(1832.34 1479.5) rotate(0.03) scale(0.9550 1)" clip-path="url(#one39)" font-family='"Liberation Sans", "DejaVu Sans", sans-serif' font-size="39.0" fill="#000">1</text><text transform="translate(1851.1 1479.5) rotate(0.03) scale(0.9550 1.0000)" font-family='"Liberation Sans", "DejaVu Sans", sans-serif' font-size="39.0" fill="#000">8</text><text transform="translate(1876.36 1479.5) rotate(0.03) scale(0.9550 1.0000)" font-family='"Liberation Sans", "DejaVu Sans", sans-serif' font-size="39.0" fill="#000">000</text></g>
<rect x="183.5" y="1483.2" width="1.6" height="1" fill="#777"/>
<rect x="352.2" y="1483.2" width="1.6" height="1" fill="#777"/>
<rect x="521" y="1483.2" width="1.6" height="1" fill="#777"/>
<rect x="700.2" y="1483.2" width="1.6" height="1" fill="#777"/>
<rect x="869.3" y="1483.2" width="1.6" height="1" fill="#777"/>
</g>
<g id="legend">
<circle cx="145.5" cy="121.9" r="9.2" fill="none" stroke="#000" stroke-width="2.2"/>
<polygon points="145.7,153.6 157.7,174 133.8,174" fill="#000"/>
<circle cx="145.1" cy="208.2" r="9.1" fill="#000"/>
<g><text transform="translate(170.44 137.4) rotate(0.03) scale(1.0324 1.0000)" font-family='"DejaVu Sans", "Liberation Sans", sans-serif' font-size="34.8" fill="#000">Control</text></g>
<g><text transform="translate(170.56 179.6) rotate(0.03) scale(1.0481 1.0000)" font-family='"DejaVu Sans", "Liberation Sans", sans-serif' font-size="34.8" fill="#000">Fresh</text> <text transform="translate(279.79 179.6) rotate(0.03) scale(1.0092 1.0000)" font-family='"DejaVu Sans", "Liberation Sans", sans-serif' font-size="34.8" fill="#000">PyOM</text></g>
<g><text transform="translate(168.98 220.2) rotate(0.03) scale(1.0082 1.0000)" font-family='"DejaVu Sans", "Liberation Sans", sans-serif' font-size="34.8" fill="#000">Oxidized</text> <text transform="translate(334.01 220.2) rotate(0.03) scale(1.0038 1.0000)" font-family='"DejaVu Sans", "Liberation Sans", sans-serif' font-size="34.8" fill="#000">PyOM</text></g>
</g>
<g id="axis-titles">
<g id="y-title"><text transform="translate(47.8 1163.48) rotate(-89.97) scale(0.9675 1.0000)" font-family='"DejaVu Sans", "Liberation Sans", sans-serif' font-size="40.0" fill="#000">Cumulative</text> <text transform="translate(47.8 929.52) rotate(-89.97) scale(0.9702 1.0000)" font-family='"DejaVu Sans", "Liberation Sans", sans-serif' font-size="40.0" fill="#000">relative</text> <text transform="translate(47.8 770.18) rotate(-89.97) scale(0.9543 1.0000)" font-family='"DejaVu Sans", "Liberation Sans", sans-serif' font-size="40.0" fill="#000">leaching</text> <text transform="translate(47.8 594.65) rotate(-89.97) scale(0.9720 1.0000)" font-family='"DejaVu Sans", "Liberation Sans", sans-serif' font-size="40.0" fill="#000">loss</text> <text transform="translate(47.8 506.12) rotate(-89.97) scale(0.9859 1.0000)" font-family='"DejaVu Sans", "Liberation Sans", sans-serif' font-size="40.0" fill="#000">of</text> <text transform="translate(47.8 454.81) rotate(-89.97) scale(0.9954 1.0000)" font-family='"DejaVu Sans", "Liberation Sans", sans-serif' font-size="40.0" fill="#000">nSOC</text> <text transform="translate(49.6 331.97) rotate(-89.97) scale(1.2060 1.0575)" font-family='"DejaVu Sans", "Liberation Sans", sans-serif' font-size="40.0" fill="#000">[</text><text transform="translate(47.8 314.03) rotate(-89.97) scale(1.0806 1.0000)" font-family='"DejaVu Sans", "Liberation Sans", sans-serif' font-size="40.0" fill="#000">%</text><text transform="translate(49.6 273.76) rotate(-89.97) scale(1.1758 1.0575)" font-family='"DejaVu Sans", "Liberation Sans", sans-serif' font-size="40.0" fill="#000">]</text></g>
<g id="x-title"><text transform="translate(886.51 1538.5) rotate(0.03) scale(0.9963 1.0000)" font-family='"DejaVu Sans", "Liberation Sans", sans-serif' font-size="40.6" fill="#000">Percolation</text> <text transform="translate(1125.68 1541) rotate(0.03) scale(1.2060 1.0770)" font-family='"DejaVu Sans", "Liberation Sans", sans-serif' font-size="40.6" fill="#000">[</text><text transform="translate(1143.47 1538.5) rotate(0.03) scale(0.9578 1.0000)" font-family='"DejaVu Sans", "Liberation Sans", sans-serif' font-size="40.6" fill="#000">L</text> <text transform="translate(1175.83 1538.5) rotate(0.03) scale(0.9846 1.0000)" font-family='"DejaVu Sans", "Liberation Sans", sans-serif' font-size="40.6" fill="#000">m</text><text transform="translate(1215.45 1522.3) rotate(0.03) scale(1.1286 1.0000)" font-family='"DejaVu Sans", "Liberation Sans", sans-serif' font-size="27.0" fill="#000">-</text><text transform="translate(1227.17 1522.3) rotate(0.03) scale(1.0160 1.0000)" font-family='"DejaVu Sans", "Liberation Sans", sans-serif' font-size="27.0" fill="#000">2</text><text transform="translate(1242.23 1541) rotate(0.03) scale(1.2179 1.0770)" font-family='"DejaVu Sans", "Liberation Sans", sans-serif' font-size="40.6" fill="#000">]</text></g>
</g>
</svg>
</body></html>
